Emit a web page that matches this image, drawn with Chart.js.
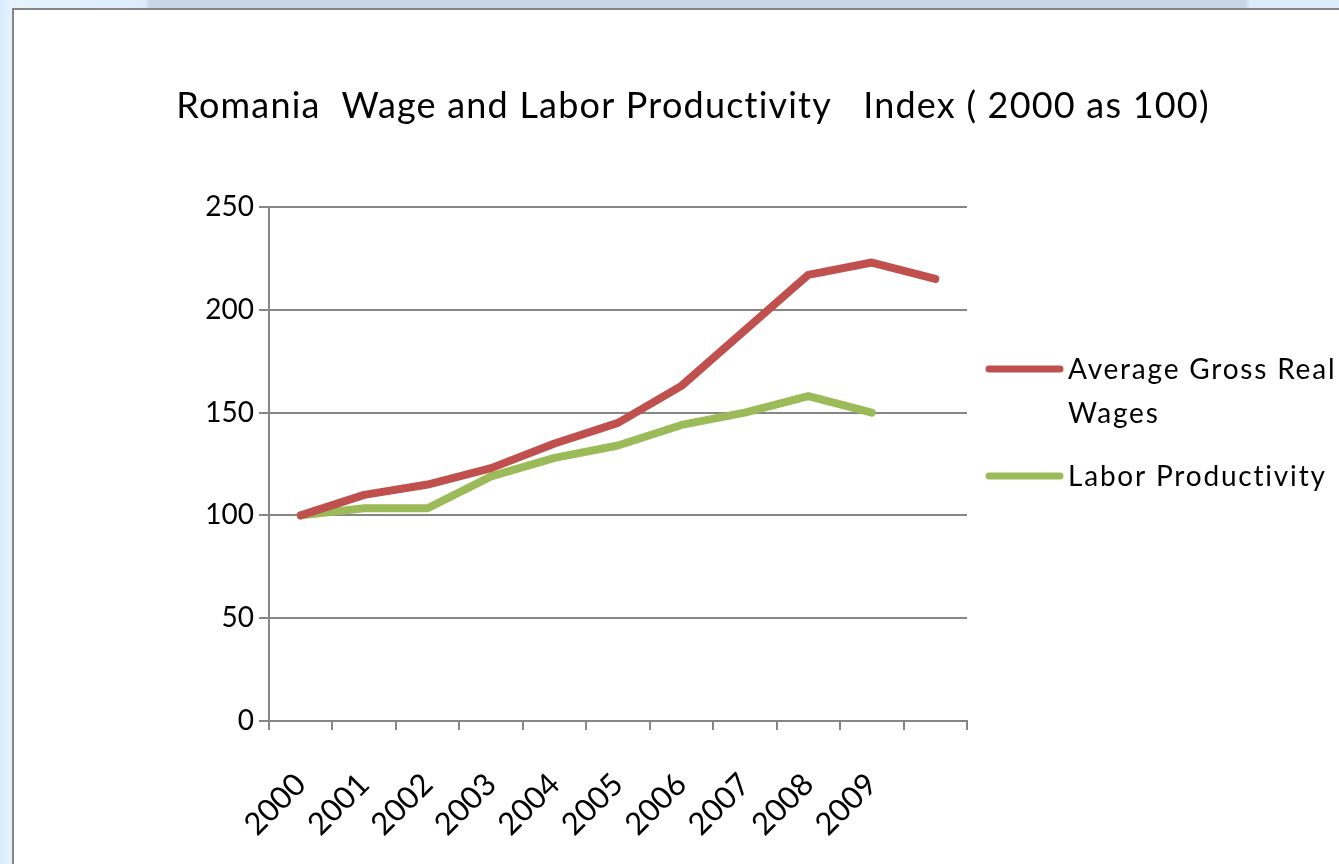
<!DOCTYPE html>
<html>
<head>
<meta charset="utf-8">
<script src="https://cdn.jsdelivr.net/npm/chart.js@4"></script>
<style>
  html, body { margin: 0; padding: 0; width: 1339px; height: 864px; overflow: hidden; }
  body {
    background: linear-gradient(to right, #d8ebfb 0px, #e6f3fd 12px, #dcecfa 145px, #c9d5e8 150px, #c9d5e8 1245px, #dcecfa 1250px);
  }
  #panel {
    position: absolute; left: 12px; top: 8px; width: 1400px; height: 900px;
    background: #ffffff; border: 2px solid #858585;
  }
  #wrap { position: absolute; left: 0; top: 0; width: 1339px; height: 864px; }
</style>
</head>
<body>
<div id="panel"></div>
<div id="wrap"><canvas id="myChart" width="1339" height="864"></canvas></div>
<script>
const titleText = 'Romania  Wage and Labor Productivity   Index ( 2000 as 100)';
const years = ['2000', '2001', '2002', '2003', '2004', '2005', '2006', '2007', '2008', '2009', ''];
const wages = [100, 110, 115, 123, 135, 145, 163, 190, 217, 223, 215];
const productivity = [100, 103.5, 103.5, 119, 128, 134, 144, 150, 158, 150, null];
const yTicks = [0, 50, 100, 150, 200, 250];

const FONT = 'Lato, "Open Sans", sans-serif';
const gridGray = '#868686';

// title + wrapped legend drawn on the canvas (built-in legend can't wrap)
const sideBits = {
  id: 'sideBits',
  afterDraw(chart) {
    const ctx = chart.ctx;
    ctx.save();
    ctx.fillStyle = '#000';
    ctx.font = '36px ' + FONT;
    ctx.letterSpacing = '1.2px';
    ctx.textAlign = 'center';
    ctx.textBaseline = 'middle';
    ctx.fillText(titleText, 693, 106);

    ctx.font = '28px ' + FONT;
    ctx.letterSpacing = '1.8px';
    ctx.textAlign = 'left';
    const rows = [369, 476];
    chart.data.datasets.forEach((ds, i) => {
      const y = rows[i];
      ctx.strokeStyle = ds.borderColor;
      ctx.lineWidth = 7;
      ctx.lineCap = 'round';
      ctx.beginPath();
      ctx.moveTo(989, y);
      ctx.lineTo(1060, y);
      ctx.stroke();
      // wrap text at ~300px
      const words = ds.label.split(' ');
      let line = '';
      let ly = y + 1;
      words.forEach(w => {
        const test = line ? line + ' ' + w : w;
        if (ctx.measureText(test).width > 300 && line) {
          ctx.fillText(line, 1068, ly);
          line = w;
          ly += 44;
        } else {
          line = test;
        }
      });
      ctx.fillText(line, 1068, ly);
    });
    ctx.restore();
  }
};

const chart1 = document.getElementById('myChart').getContext('2d');

const myChart = new Chart(chart1, {
  type: 'line',
  data: {
    labels: years,
    datasets: [
      {
        label: 'Average Gross Real Wages',
        data: wages,
        borderColor: '#c0504d',
        backgroundColor: '#c0504d',
        borderWidth: 8,
        pointRadius: 0,
        tension: 0,
        borderCapStyle: 'round',
        borderJoinStyle: 'round',
      },
      {
        label: 'Labor Productivity',
        data: productivity,
        borderColor: '#9bbb59',
        backgroundColor: '#9bbb59',
        borderWidth: 8,
        pointRadius: 0,
        tension: 0,
        borderCapStyle: 'round',
        borderJoinStyle: 'round',
      },
    ],
  },
  options: {
    responsive: false,
    animation: false,
    layout: {
      padding: { left: 0, right: 372, top: 207, bottom: 0 },
    },
    scales: {
      y: {
        min: 0,
        max: 250,
        afterFit: (scale) => { scale.width = 269; },
        afterBuildTicks: (scale) => { scale.ticks = yTicks.map(v => ({ value: v })); },
        ticks: {
          color: '#000',
          font: { family: FONT, size: 28 },
          padding: 5,
        },
        grid: {
          color: gridGray,
          lineWidth: 2,
          tickLength: 10,
        },
        border: { color: gridGray, width: 2 },
      },
      x: {
        offset: true,
        afterFit: (scale) => { scale.height = 143; },
        ticks: {
          color: '#000',
          font: { family: FONT, size: 31 },
          maxRotation: 45,
          minRotation: 45,
          padding: 36,
          autoSkip: false,
        },
        grid: {
          offset: true,
          drawOnChartArea: false,
          color: gridGray,
          lineWidth: 2,
          tickLength: 9,
        },
        border: { color: gridGray, width: 2 },
      },
    },
    plugins: {
      legend: { display: false },
      title: { display: false },
      tooltip: { enabled: false },
    },
  },
  plugins: [sideBits],
});
</script>
</body>
</html>
